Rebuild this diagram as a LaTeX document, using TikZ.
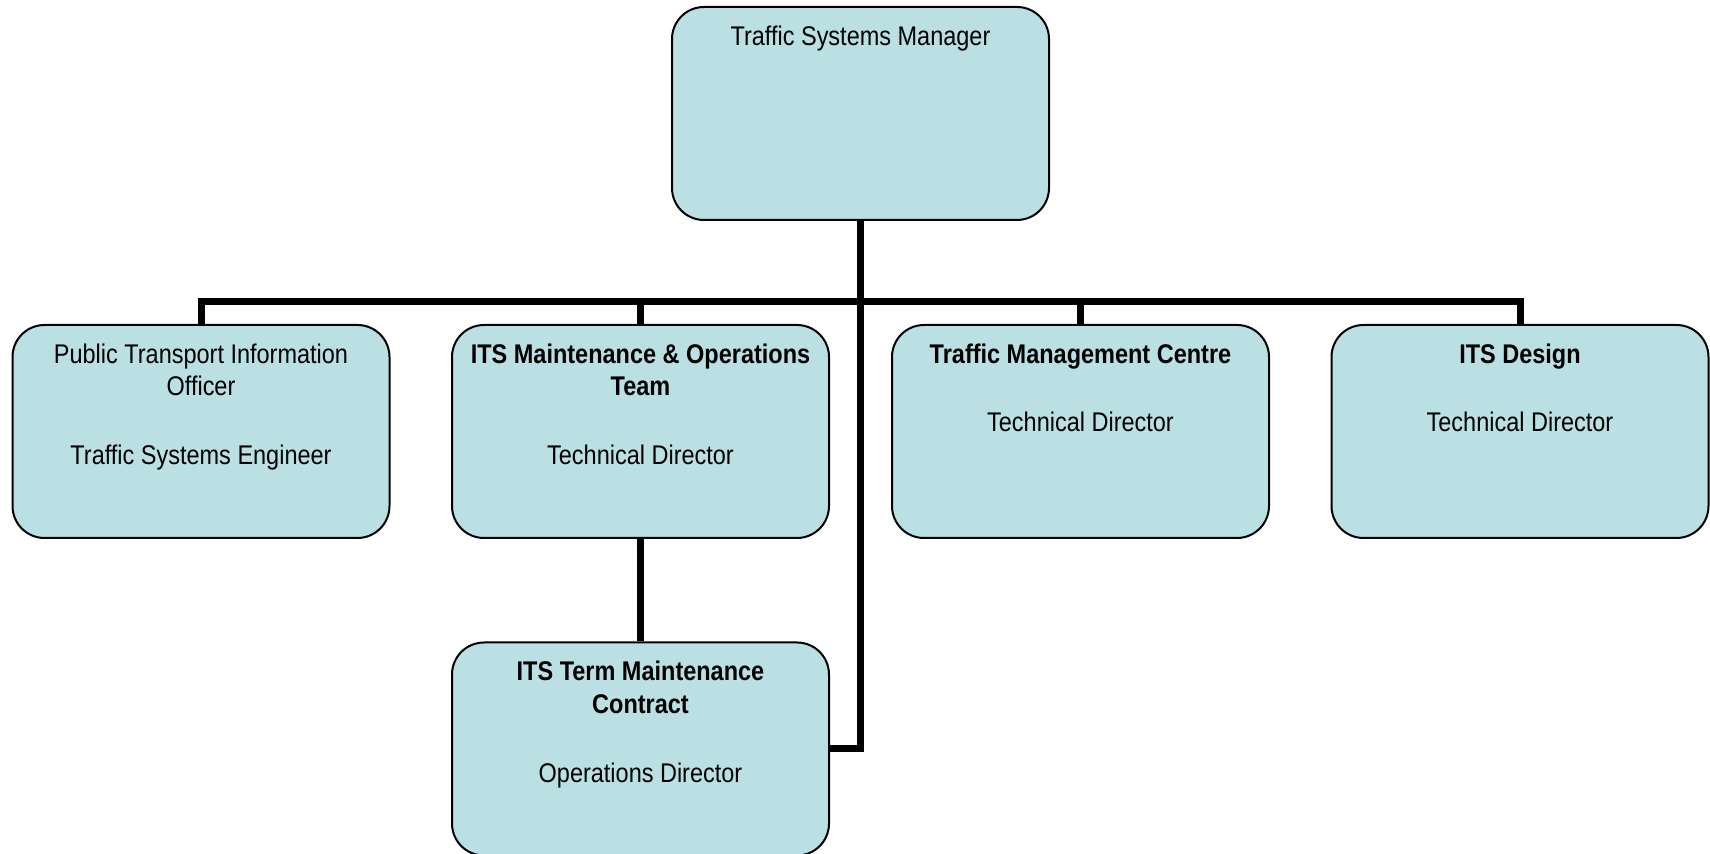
\documentclass[tikz,border=0pt]{standalone}
\usepackage{fontspec}
\setmainfont{Liberation Sans}[FakeStretch=0.87]
\definecolor{boxfill}{RGB}{186,224,227}
\tikzset{
  orgbox/.style={draw=black, line width=1pt, fill=boxfill, rounded corners=16pt,
    minimum width=188.5pt, minimum height=106.5pt, inner sep=0pt},
  orgtext/.style={anchor=north, align=center, inner sep=0pt,
    font=\fontsize{13.5}{16.4}\selectfont},
  link/.style={line width=3.5pt, draw=black}
}
\begin{document}
\begin{tikzpicture}[x=0.5pt,y=-0.5pt]
\useasboundingbox (0,0) rectangle (1710,854);
% boxes
\node[orgbox] (tsm) at (860.5,113.5) {};
\node[orgbox] (pti) at (201,431.5) {};
\node[orgbox] (its) at (640.5,431.5) {};
\node[orgbox] (tmc) at (1080.5,431.5) {};
\node[orgbox] (itd) at (1520,431.5) {};
\node[orgbox] (itc) at (640.5,749) {};
% connectors
\coordinate (bus) at (860.5,302);
\draw[link] (tsm.south) |- (itc.east);
\draw[link] (bus) -| (pti.north);
\draw[link] (bus) -| (its.north);
\draw[link] (bus) -| (tmc.north);
\draw[link] (bus) -| (itd.north);
\draw[link] (its.south) -- (itc.north);
% texts
\node[orgtext] (tsmt) at ([yshift=-9.6pt]tsm.north) {Traffic Systems Manager};
\node[orgtext] (ptit) at ([yshift=-9.6pt]pti.north) {Public Transport Information\\Officer\\[18pt]Traffic Systems Engineer};
\node[orgtext] (itst) at ([yshift=-9.6pt]its.north) {\textbf{ITS Maintenance \& Operations}\\\textbf{Team}\\[18pt]Technical Director};
\node[orgtext] (tmct) at ([yshift=-9.6pt]tmc.north) {\textbf{Traffic Management Centre}\\[18pt]Technical Director};
\node[orgtext] (itdt) at ([yshift=-9.6pt]itd.north) {\textbf{ITS Design}\\[18pt]Technical Director};
\node[orgtext] (itct) at ([yshift=-9.6pt]itc.north) {\textbf{ITS Term Maintenance}\\\textbf{Contract}\\[18pt]Operations Director};
\end{tikzpicture}
\end{document}
